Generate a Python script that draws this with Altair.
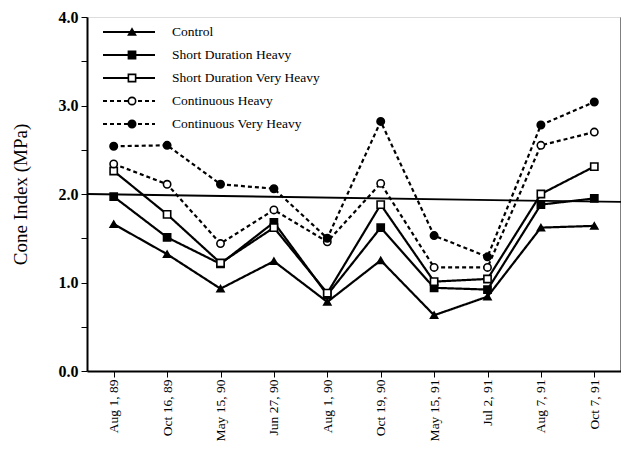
import altair as alt
import pandas as pd

dates = ["Aug 1, 89", "Oct 16, 89", "May 15, 90", "Jun 27, 90", "Aug 1, 90",
         "Oct 19, 90", "May 15, 91", "Jul 2, 91", "Aug 7, 91", "Oct 7, 91"]
series = ["Control", "Short Duration Heavy", "Short Duration Very Heavy",
          "Continuous Heavy", "Continuous Very Heavy"]

control = [1.66, 1.32, 0.93, 1.24, 0.78, 1.25, 0.63, 0.84, 1.62, 1.64]
sd_heavy = [1.97, 1.51, 1.21, 1.68, 0.86, 1.62, 0.94, 0.92, 1.88, 1.95]
sd_very_heavy = [2.26, 1.77, 1.22, 1.62, 0.88, 1.88, 1.01, 1.04, 2.00, 2.31]
cont_heavy = [2.34, 2.11, 1.44, 1.82, 1.46, 2.12, 1.17, 1.17, 2.55, 2.70]
cont_very_heavy = [2.54, 2.55, 2.11, 2.06, 1.50, 2.82, 1.53, 1.29, 2.78, 3.04]

ref_line = [2.0, 1.91]

values = [control, sd_heavy, sd_very_heavy, cont_heavy, cont_very_heavy]
rows = []
for s, vals in zip(series, values):
    for d, v in zip(dates, vals):
        rows.append({"date": d, "series": s, "value": v})
df = pd.DataFrame(rows)

legend_df = pd.DataFrame({"series": series, "row": list(range(len(series)))})
ref_df = pd.DataFrame({"a": [ref_line[0]], "b": [ref_line[1]]})

W, H = 534, 354
FONT = "Liberation Serif"

shape_scale = alt.Scale(domain=series, range=["triangle-up", "square", "square", "circle", "circle"])
fill_scale = alt.Scale(domain=series, range=["black", "black", "white", "white", "black"])
dash_scale = alt.Scale(domain=series, range=[[1, 0], [1, 0], [1, 0], [4, 3], [4, 3]])
width_scale = alt.Scale(domain=series, range=[2.2, 2.2, 1.5, 2, 2])
size_scale = alt.Scale(domain=series, range=[50, 55, 45, 40, 75])

x_enc = alt.X("date:O", sort=dates, title=None,
              scale=alt.Scale(paddingOuter=0.5),
              axis=alt.Axis(labelAngle=270, labelAlign="right", labelBaseline="middle",
                            labelFont=FONT, labelFontSize=13.5, labelColor="black",
                            tickColor="black", tickSize=6, domainColor="black",
                            domainWidth=2, labelPadding=2))
y_enc = alt.Y("value:Q", title="Cone Index (MPa)",
              scale=alt.Scale(domain=[0, 4], nice=False),
              axis=alt.Axis(values=[0, 0.5, 1, 1.5, 2, 2.5, 3, 3.5, 4],
                            labelExpr="datum.value % 1 == 0 ? format(datum.value, '.1f') : ''",
                            labelFont=FONT, labelFontSize=16, labelFontWeight="bold",
                            labelColor="black", tickColor="black", tickSize=6,
                            domainColor="black", domainWidth=2, grid=False,
                            titleFont=FONT, titleFontSize=19, titleFontWeight="normal",
                            titleColor="black", titlePadding=28, labelPadding=3))

lines = alt.Chart(df).mark_line(color="black").encode(
    x=x_enc, y=y_enc,
    strokeDash=alt.StrokeDash("series:N", scale=dash_scale, legend=None),
    strokeWidth=alt.StrokeWidth("series:N", scale=width_scale, legend=None),
    detail="series:N",
)

points = alt.Chart(df).mark_point(filled=True, stroke="black", strokeWidth=1.6, opacity=1).encode(
    x=alt.X("date:O", sort=dates),
    y="value:Q",
    shape=alt.Shape("series:N", scale=shape_scale, legend=None),
    fill=alt.Fill("series:N", scale=fill_scale, legend=None),
    size=alt.Size("series:N", scale=size_scale, legend=None),
)

ref = alt.Chart(ref_df).mark_rule(color="black", strokeWidth=1.8).encode(
    x=alt.value(0), x2=alt.value(W),
    y="a:Q", y2="b:Q",
)

# right axis (ticks only)
right_axis = alt.Chart(ref_df).mark_rule(opacity=0).encode(
    y=alt.Y("a:Q", scale=alt.Scale(domain=[0, 4], nice=False), title=None,
            axis=alt.Axis(orient="right", values=[0, 0.5, 1, 1.5, 2, 2.5, 3, 3.5, 4],
                          labels=False, tickColor="black", tickSize=4,
                          domainColor="black", domainWidth=2, grid=False)),
)

leg_y = alt.Y("row:Q", scale=alt.Scale(domain=[0, 4], range=[15, 107]), axis=None)

leg_lines = alt.Chart(legend_df).mark_rule(color="black").encode(
    x=alt.value(16), x2=alt.value(68), y=leg_y,
    strokeDash=alt.StrokeDash("series:N", scale=dash_scale, legend=None),
    strokeWidth=alt.StrokeWidth("series:N", scale=width_scale, legend=None),
)
leg_points = alt.Chart(legend_df).mark_point(filled=True, stroke="black", strokeWidth=1.6, opacity=1).encode(
    x=alt.value(45), y=leg_y,
    shape=alt.Shape("series:N", scale=shape_scale, legend=None),
    fill=alt.Fill("series:N", scale=fill_scale, legend=None),
    size=alt.Size("series:N", scale=size_scale, legend=None),
)
leg_text = alt.Chart(legend_df).mark_text(align="left", baseline="middle", font=FONT,
                                          fontSize=13.5, color="black").encode(
    x=alt.value(85), y=leg_y, text="series:N",
)

main = alt.layer(lines, points, ref)
legend = alt.layer(leg_lines, leg_points, leg_text)

chart = alt.layer(main, right_axis, legend).resolve_scale(y="independent").properties(
    width=W, height=H,
    autosize=alt.AutoSizeParams(type="none"),
    padding={"left": 79, "top": 9, "right": 0, "bottom": 71},
).configure_view(stroke="black", strokeWidth=2).configure(background="white")

chart.save("out.html", embed_options={"renderer": "svg", "actions": False})
